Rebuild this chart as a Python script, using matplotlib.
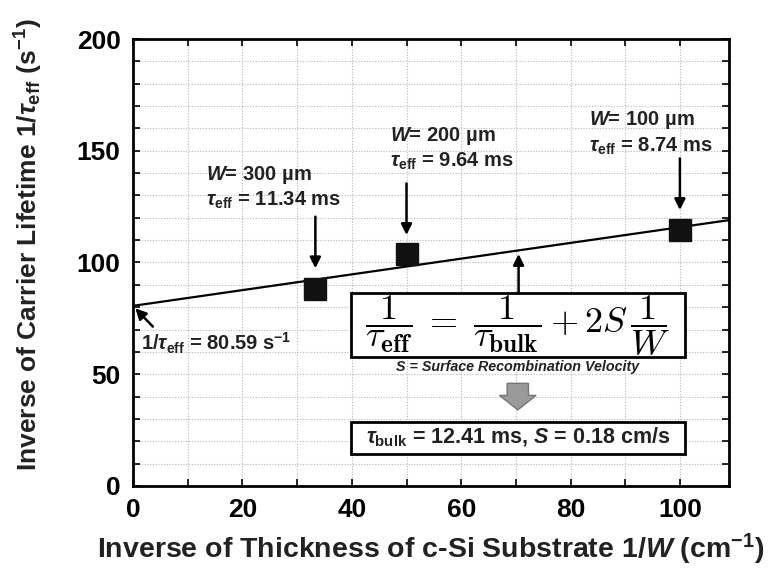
"""Inverse carrier lifetime vs inverse substrate thickness."""

import matplotlib.pyplot as plt
import matplotlib.patches as mpatches
import numpy as np

plt.rcParams['font.family'] = ['Liberation Sans', 'DejaVu Sans']
plt.rcParams['font.weight'] = 'bold'
plt.rcParams['axes.labelweight'] = 'bold'
plt.rcParams['mathtext.fontset'] = 'custom'
plt.rcParams['mathtext.rm'] = 'Liberation Sans:bold'
plt.rcParams['mathtext.it'] = 'Liberation Sans:italic:bold'
plt.rcParams['mathtext.bf'] = 'Liberation Sans:bold'

# data
inv_W = [33.33, 50.0, 100.0]          # 1/W (cm^-1)
inv_tau = [88.18, 103.73, 114.42]     # 1/tau_eff (s^-1)
W_um = ["300", "200", "100"]
tau_ms = ["11.34", "9.64", "8.74"]
intercept_label = "80.59"
tau_bulk = "12.41"
S_val = "0.18"

slope, icpt = np.polyfit(inv_W, inv_tau, 1)

fig = plt.figure(figsize=(7.74, 5.75), dpi=100)
ax = fig.add_axes([0.172, 0.155, 0.770, 0.777])

ax.set_xlim(0, 109)
ax.set_ylim(0, 200)
ax.set_xticks(np.arange(0, 101, 20))
ax.set_xticks(np.arange(0, 109, 10), minor=True)
ax.set_yticks(np.arange(0, 201, 50))
ax.set_yticks(np.arange(0, 201, 10), minor=True)
ax.grid(True, which='both', ls=(0, (1, 1.5)), color='#b8b8b8', lw=0.8)
ax.set_axisbelow(True)
ax.tick_params(which='both', direction='in', top=True, right=True,
               length=5, width=1.2, labelsize=19, pad=9)
for sp in ax.spines.values():
    sp.set_linewidth(2)

xl = np.array([0, 109])
ax.plot(xl, icpt + slope * xl, color='k', lw=1.6, zorder=3)
ax.plot(inv_W, inv_tau, 's', color='#111111', ms=16.5, zorder=4)

ax.set_xlabel(r"Inverse of Thickness of c-Si Substrate 1/$W$ (cm$^{-1}$)",
              fontsize=20.5, color='#222222')
ax.set_ylabel(r"Inverse of Carrier Lifetime 1/$\tau_{\rm eff}$ (s$^{-1}$)",
              fontsize=19, color='#222222')
ax.xaxis.set_label_coords(0.5, -0.103)
ax.yaxis.set_label_coords(-0.148, 0.54)

ann = dict(fontsize=14.5, color='#222222', ha='left', va='center')
arrow = dict(arrowstyle='-|>', color='k', lw=1.8, mutation_scale=16,
             shrinkA=0, shrinkB=0)

# per-point annotations (text x, W-line y, tau-line y, arrow top, arrow tip)
txt_x = [13.4, 46.9, 83.4]
w_y = [139.1, 156.6, 163.8]
t_y = [127.7, 145.1, 151.8]
arr_top = [120.5, 135.4, 146.6]
arr_tip = [97.4, 112.3, 123.5]
for i in range(3):
    ax.text(txt_x[i], w_y[i], rf"$W$= {W_um[i]} µm", **ann)
    ax.text(txt_x[i], t_y[i], rf"$\tau_{{\rm eff}}$ = {tau_ms[i]} ms", **ann)
    ax.annotate('', xy=(inv_W[i], arr_tip[i]), xytext=(inv_W[i], arr_top[i]),
                arrowprops=arrow)

# intercept
ax.annotate('', xy=(0.4, 79.5), xytext=(3.6, 71.3), arrowprops=arrow)
ax.text(1.4, 63.8, rf"1/$\tau_{{\rm eff}}$ = {intercept_label} s$^{{-1}}$", **ann)

# equation box
ax.add_patch(mpatches.Rectangle((39.8, 57.9), 61.1, 28.6, fill=True,
                                fc='white', ec='k', lw=2, zorder=5))
ax.text(70.35, 71.8,
        r"$\dfrac{\mathbf{1}}{\tau_{\mathbf{eff}}}\;=\;"
        r"\dfrac{\mathbf{1}}{\tau_{\mathbf{bulk}}}+\mathbf{2}S\,\dfrac{\mathbf{1}}{W}$",
        math_fontfamily='cm', fontsize=26, ha='center', va='center', zorder=6)
ax.annotate('', xy=(70.5, 103.8), xytext=(70.5, 86.5), arrowprops=arrow)
ax.text(70.4, 53.1, "S = Surface Recombination Velocity", fontsize=10.3,
        style='italic', ha='center', va='center', color='#222222')

# gray block arrow
ax.add_patch(mpatches.FancyArrow(70.35, 45.9, 0, -11.9, width=3.9,
                                 head_width=6.7, head_length=6.5,
                                 length_includes_head=True, fc='#9a9a9a',
                                 ec='#777777', lw=1, zorder=5))

# result box
ax.add_patch(mpatches.Rectangle((39.8, 14.3), 61.1, 14.5, fill=True,
                                fc='white', ec='k', lw=2, zorder=5))
ax.text(70.35, 21.5,
        rf"$\tau_{{\rm bulk}}$ = {tau_bulk} ms, $S$ = {S_val} cm/s",
        fontsize=15.5, ha='center', va='center', color='#222222', zorder=6)

fig.savefig("out.png", dpi=100)
